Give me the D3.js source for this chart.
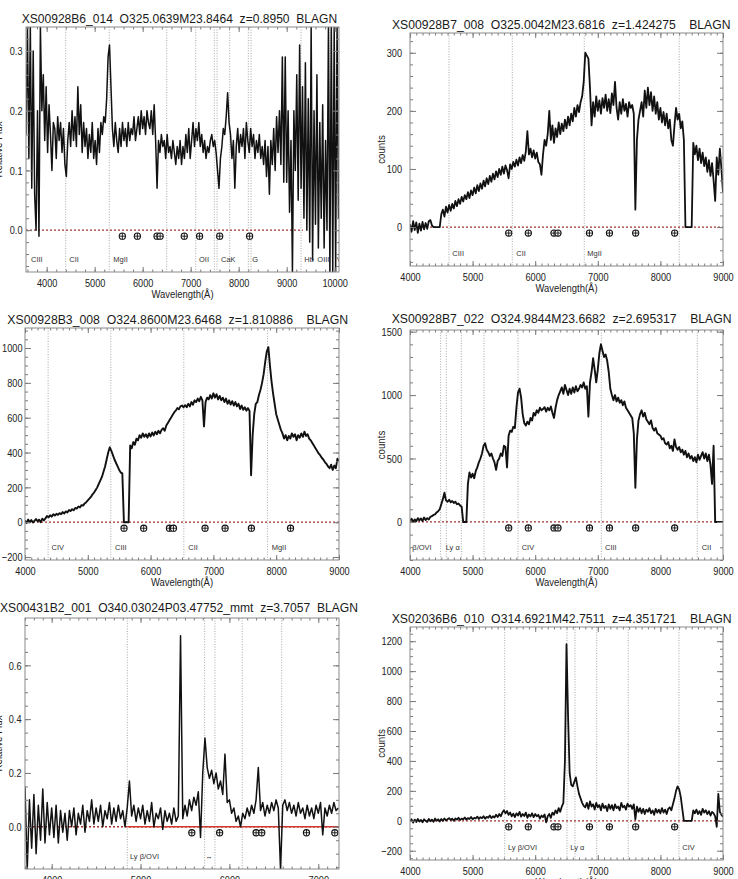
<!DOCTYPE html>
<html><head><meta charset="utf-8">
<script src="https://cdn.jsdelivr.net/npm/d3@7"></script>
<style>
body{margin:0;background:#fff;}
svg{display:block;font-family:"Liberation Sans",Arial,sans-serif;}
</style></head><body>
<svg id="c" width="738" height="879"></svg>
<script>
// ---------------- DATA ----------------
const telluricWave = [5577, 5890, 6300, 6364, 6867, 7186, 7605, 8228];

const title1 = "XS00928B6_014  O325.0639M23.8464  z=0.8950  BLAGN";
const title2 = "XS00928B7_008  O325.0042M23.6816  z=1.424275    BLAGN";
const title3 = "XS00928B3_008  O324.8600M23.6468  z=1.810886    BLAGN";
const title4 = "XS00928B7_022  O324.9844M23.6682  z=2.695317    BLAGN";
const title5 = "XS00431B2_001  O340.03024P03.47752_mmt  z=3.7057  BLAGN";
const title6 = "XS02036B6_010  O314.6921M42.7511  z=4.351721    BLAGN";

const xTicks1 = [4000, 5000, 6000, 7000, 8000, 9000, 10000];
const xTicksStd = [4000, 5000, 6000, 7000, 8000, 9000];
const xTicks5 = [4000, 5000, 6000, 7000];
const yTicks1 = [0, 0.1, 0.2, 0.3];
const yTicks2 = [0, 100, 200, 300];
const yTicks3 = [-200, 0, 200, 400, 600, 800, 1000];
const yTicks4 = [0, 500, 1000, 1500];
const yTicks5 = [0, 0.2, 0.4, 0.6];
const yTicks6 = [-200, 0, 200, 400, 600, 800, 1000, 1200];

// emission line markers (wavelength, Angstrom)
const lines1Wave = [4397, 5305, 6501, 7105, 7493, 7549, 7813, 8201, 8257, 9298, 9902];
const labels1Wave = [3674, 4472, 5389, 7174, 7632, 8284, 9367, 9638, 10042];
const labels1Text = ["CIII", "CII", "MgII", "OII", "CaK", "G", "Hb", "OIII", "V"];
const lines2Wave = [4623, 5634, 6784, 8301];
const labels2Wave = [4676, 5698, 6832];
const labels2Text = ["CIII", "CII", "MgII"];
const lines3Wave = [4368, 5366, 6529, 7860];
const labels3Wave = [4423, 5433, 6600, 7928];
const labels3Text = ["CIV", "CIII", "CII", "MgII"];
const lines4Wave = [4490, 4580, 4820, 5182, 5725, 7056, 8589];
const labels4Wave = [4037, 4570, 5784, 7115, 8660];
const labels4Text = ["β/OVI", "Ly α", "CIV", "CIII", "CII"];
const lines5Wave = [4851, 5721, 5837, 6144, 6588];
const labels5Wave = [4881, 5728];
const labels5Text = ["Ly β/OVI", "↔"];
const lines6Wave = [5513, 6508, 6636, 6982, 7487, 8297];
const labels6Wave = [5565, 6561, 8350];
const labels6Text = ["Ly β/OVI", "Ly α", "CIV"];

// spectra: first wavelength, sampling step (Angstrom), flux values
const spec1Start = 3570, spec1Step = 30;
const spec1Flux = [
 0.16,0.34,0.12,0.34,0.07,0.3,0.06,0.0,0.2,-0.01,
 0.34,0.2,0.26,0.15,0.24,0.13,0.21,0.16,0.1,0.18,
 0.17,0.12,0.19,0.15,0.18,0.13,0.17,0.11,0.09,0.15,
 0.18,0.14,0.2,0.15,0.19,0.14,0.24,0.16,0.21,0.13,
 0.18,0.14,0.17,0.12,0.16,0.13,0.18,0.12,0.15,0.11,
 0.17,0.13,0.18,0.16,0.19,0.18,0.22,0.29,0.31,0.24,
 0.17,0.14,0.18,0.15,0.13,0.17,0.14,0.18,0.15,0.17,
 0.14,0.18,0.15,0.17,0.16,0.19,0.15,0.17,0.19,0.16,
 0.2,0.17,0.19,0.16,0.2,0.18,0.17,0.2,0.16,0.21,
 0.15,0.07,0.15,0.13,0.16,0.14,0.15,0.12,0.16,0.13,
 0.14,0.12,0.15,0.13,0.11,0.14,0.12,0.15,0.11,0.14,
 0.12,0.16,0.13,0.17,0.12,0.15,0.18,0.14,0.17,0.15,
 0.18,0.14,0.16,0.13,0.15,0.12,0.14,0.13,0.15,0.16,
 0.14,0.15,0.13,0.1,0.07,0.12,0.14,0.17,0.16,0.19,
 0.23,0.18,0.16,0.12,0.15,0.07,0.14,0.17,0.13,0.16,
 0.14,0.17,0.12,0.18,0.15,0.13,0.17,0.14,0.16,0.12,
 0.15,0.13,0.16,0.12,0.14,0.11,0.15,0.09,0.14,0.06,
 0.15,0.11,0.17,0.1,0.19,0.13,0.2,0.11,0.29,0.08,
 0.29,0.08,0.2,0.03,0.15,-0.07,0.2,0.1,0.26,0.05,
 0.31,0.07,0.24,0.02,0.28,0.0,0.22,-0.02,0.34,-0.05,
 0.2,0.01,0.26,-0.03,0.18,0.02,0.21,-0.03,0.15,0.0,
 0.34,-0.07,0.34,-0.07,0.34,-0.07,0.34,0.02];

const spec2Start = 4000, spec2Step = 25;
const spec2Flux = [
 5,-8,10,-5,8,-10,6,-6,9,-4,7,-3,10,12,
 3,0,0,0,0,0,
 22,30,18,35,25,38,28,40,
 32,45,36,48,40,52,44,55,
 48,60,50,63,55,68,58,72,
 62,75,66,80,70,84,74,88,
 78,92,82,96,86,100,90,104,
 92,106,98,84,108,100,112,104,
 116,106,120,110,124,114,130,165,
 125,135,120,132,118,128,112,108,
 90,125,150,140,160,200,150,175,
 145,170,155,180,160,178,165,185,
 170,190,175,195,182,205,190,210,
 198,215,225,250,300,295,290,240,
 175,215,190,225,200,218,195,222,
 205,228,200,220,196,230,210,250,
 205,185,215,195,220,200,212,190,
 215,205,210,195,30,150,185,200,
 215,190,235,205,240,210,232,200,
 225,195,215,185,205,180,198,175,
 195,170,185,150,140,175,205,185,
 195,170,182,150,0,0,0,0,
 0,145,125,140,115,135,110,128,
 105,120,95,115,88,110,80,45,
 120,90,135,100,60];

const spec3Start = 4000, spec3Step = 25;
const spec3Flux = [
 10,-5,15,0,12,-2,8,18,5,14,0,20,10,22,
 35,28,40,32,45,38,48,42,
 52,46,58,50,62,56,70,64,
 75,68,82,78,90,85,98,95,
 108,115,125,135,145,160,170,185,
 200,220,240,260,290,320,360,400,
 430,410,385,360,340,320,300,285,
 280,0,0,0,0,440,425,460,
 445,480,470,500,485,510,490,505,
 485,510,492,515,498,520,505,525,
 510,530,540,525,555,570,585,600,
 615,630,640,655,648,665,670,660,
 672,660,680,665,690,675,700,690,
 710,695,720,700,550,690,715,705,
 730,710,740,715,735,705,725,700,
 715,690,710,680,700,675,695,670,
 690,665,680,650,670,645,660,640,
 655,640,270,500,620,680,690,730,
 760,800,850,920,980,1005,900,810,
 740,680,620,590,560,530,510,480,
 500,470,495,480,510,490,505,470,
 500,485,510,490,520,495,505,480,
 470,455,440,425,410,395,385,370,
 360,345,335,320,310,330,300,325,
 310,365,350];

const spec4Start = 4000, spec4Step = 25;
const spec4Flux = [
 10,25,0,20,5,30,12,28,8,35,15,30,20,40,
 45,55,60,75,85,100,
 140,180,230,170,160,175,155,165,
 150,160,140,145,130,120,0,0,
 0,300,390,350,380,345,400,430,
 470,500,540,600,620,570,550,520,
 540,500,470,410,480,500,540,520,
 600,590,430,680,720,710,750,740,
 900,1020,1050,980,850,780,760,790,
 770,820,800,860,840,880,860,900,
 880,890,905,870,900,880,910,860,
 820,900,960,1000,1030,1060,1010,1080,
 1040,1000,1050,1010,1060,1020,1070,1030,
 1050,1080,1060,1100,1050,1070,830,1100,
 1180,1290,1200,1100,1200,1330,1400,1350,
 1300,1320,1270,1180,1050,1000,960,1000,
 950,980,940,960,920,950,900,880,
 860,840,820,700,270,650,800,850,
 880,830,860,810,790,770,800,740,
 720,740,700,690,680,650,660,620,
 610,630,580,600,560,650,590,570,
 590,550,570,530,560,510,540,500,
 520,480,510,470,530,490,520,550,
 500,540,480,530,450,300,600,0,
 0,0,0,0,0];

const spec5Start = 3700, spec5Step = 25;
const spec5Flux = [
 0.15,-0.16,0.1,-0.08,0.12,-0.1,0.08,-0.05,0.14,-0.06,
 0.09,-0.03,0.07,-0.04,0.08,-0.06,0.06,-0.02,0.05,-0.05,
 0.06,0.0,0.07,-0.03,0.05,0.01,0.08,-0.02,0.06,0.02,
 0.1,0.01,0.07,0.02,0.08,0.0,0.06,0.03,0.09,0.01,
 0.07,0.02,0.08,0.03,0.06,0.0,0.07,0.17,0.04,0.08,
 0.02,0.07,0.03,0.08,0.01,0.06,0.02,0.09,0.0,0.05,
 0.03,0.07,-0.01,0.06,0.02,0.05,0.01,0.07,0.02,0.04,
 0.71,0.03,0.08,0.04,0.1,0.06,0.11,0.08,0.13,-0.04,
 0.2,0.33,0.22,0.18,0.21,0.16,0.2,0.14,0.17,0.12,
 0.27,0.09,0.1,0.05,0.07,0.02,0.04,0.0,0.05,0.03,
 0.07,0.04,0.08,0.05,0.1,0.22,0.06,0.09,0.04,0.08,
 0.05,0.09,0.06,0.1,0.07,-0.16,0.08,0.1,0.06,0.09,
 0.05,0.08,0.04,0.09,0.05,0.07,0.03,0.08,0.04,0.07,
 0.03,0.08,0.05,0.09,-0.03,0.07,0.04,0.08,0.05,0.09,0.06,0.07];

const spec6Start = 4000, spec6Step = 25;
const spec6Flux = [
 -5,10,-12,8,-8,12,-5,6,-10,10,0,-8,12,-3,8,-6,15,0,10,-5,
 12,0,15,2,10,18,5,14,0,16,8,20,5,15,10,22,8,18,12,25,
 10,20,15,28,12,24,18,30,14,26,20,35,18,30,22,40,
 25,45,30,55,70,50,65,40,
 55,30,48,25,50,35,60,28,45,32,55,20,42,30,50,25,
 45,30,40,15,35,25,42,-10,30,45,20,55,40,70,50,85,
 60,95,120,400,1180,700,320,240,
 230,260,290,230,180,150,120,100,
 90,120,80,130,95,110,75,120,90,105,70,115,85,100,65,110,
 80,105,70,110,85,95,70,120,90,100,75,115,95,105,80,110,
 10,95,60,85,50,80,45,75,60,85,50,70,40,80,55,75,
 50,85,55,75,45,80,90,70,110,150,200,230,
 210,160,80,0,0,0,0,0,
 0,70,50,75,45,65,40,80,
 55,70,45,65,35,60,50,30,
 -40,180,60,40,25];

// ---------------- LAYOUT ----------------
const panels = [
 {id:1, title:title1, tx:[21.7,337.5], ty:22.7, box:[26,27,339,272], xDom:[3570,10090], yDom:[-0.07,0.34],
  xTicks:xTicks1, xMinor:200, yTicks:yTicks1, yMinor:0.02, fmt:d3.format(".1f"),
  start:spec1Start, step:spec1Step, flux:spec1Flux, lines:lines1Wave, labW:labels1Wave, labT:labels1Text,
  zeroEnd:9340, solidFrom:null, yLabel:"Relative Flux", yLabX:2, yPad:3.5, sw:1.5},
 {id:2, title:title2, tx:[392,731], ty:28.7, box:[410,33,723,266], xDom:[4000,9000], yDom:[-67,334],
  xTicks:xTicksStd, xMinor:100, yTicks:yTicks2, yMinor:20, fmt:d3.format("d"),
  start:spec2Start, step:spec2Step, flux:spec2Flux, lines:lines2Wave, labW:labels2Wave, labT:labels2Text,
  zeroEnd:9000, solidFrom:null, yLabel:"counts", yLabX:385, yPad:8, sw:1.8},
 {id:3, title:title3, tx:[7.3,348.3], ty:323.7, box:[25,328,339,560], xDom:[4000,9000], yDom:[-217,1115],
  xTicks:xTicksStd, xMinor:100, yTicks:yTicks3, yMinor:50, fmt:d3.format("d"),
  start:spec3Start, step:spec3Step, flux:spec3Flux, lines:lines3Wave, labW:labels3Wave, labT:labels3Text,
  zeroEnd:9000, solidFrom:null, yLabel:null, yLabX:0, yPad:2.5, sw:1.9},
 {id:4, title:title4, tx:[391.7,731.7], ty:322.7, box:[410,330,723,560], xDom:[4000,9000], yDom:[-300,1513],
  xTicks:xTicksStd, xMinor:100, yTicks:yTicks4, yMinor:100, fmt:d3.format("d"),
  start:spec4Start, step:spec4Step, flux:spec4Flux, lines:lines4Wave, labW:labels4Wave, labT:labels4Text,
  zeroEnd:9000, solidFrom:null, yLabel:"counts", yLabX:385, yPad:8, sw:1.9},
 {id:5, title:title5, tx:[0,358.3], ty:612.3, box:[25,618,339,869], xDom:[3700,7233], yDom:[-0.157,0.776],
  xTicks:xTicks5, xMinor:100, yTicks:yTicks5, yMinor:0.05, fmt:d3.format(".1f"),
  start:spec5Start, step:spec5Step, flux:spec5Flux, lines:lines5Wave, labW:labels5Wave, labT:labels5Text,
  zeroEnd:7233, solidFrom:4850, yLabel:"Relative Flux", yLabX:2, yPad:3.5, sw:1.5},
 {id:6, title:title6, tx:[391.7,731.7], ty:623, box:[410,627,723,860], xDom:[4000,9000], yDom:[-262,1295],
  xTicks:xTicksStd, xMinor:100, yTicks:yTicks6, yMinor:50, fmt:d3.format("d"),
  start:spec6Start, step:spec6Step, flux:spec6Flux, lines:lines6Wave, labW:labels6Wave, labT:labels6Text,
  zeroEnd:9000, solidFrom:null, yLabel:"counts", yLabX:385, yPad:8, sw:1.8}
];

const svg = d3.select("#c");
const defs = svg.append("defs");
const TICK = "#7a7a7a";

function minorVals(d0, d1, step) {
  const out = [];
  const a = Math.ceil(Math.min(d0,d1)/step - 1e-9), b = Math.floor(Math.max(d0,d1)/step + 1e-9);
  for (let k = a; k <= b; k++) out.push(+(k*step).toFixed(6));
  return out;
}

function styleAxis(g) {
  g.select(".domain").remove();
  g.selectAll(".tick line").attr("stroke", TICK).attr("stroke-width", 1);
  g.selectAll(".tick text").attr("fill", "#222").attr("font-size", 11.5)
    .attr("font-family", '"Liberation Sans",Arial,sans-serif').classed("sq", true).attr("data-f", 0.8);
}

panels.forEach(p => {
  const [L,T,R,B] = p.box;
  const x = d3.scaleLinear().domain(p.xDom).range([L,R]);
  const y = d3.scaleLinear().domain(p.yDom).range([B,T]);
  const g = svg.append("g");
  const cid = "clip" + p.id;
  defs.append("clipPath").attr("id", cid).append("rect")
    .attr("x", L).attr("y", T).attr("width", R-L).attr("height", B-T);

  // emission line positions
  g.append("g").selectAll("line").data(p.lines).join("line")
    .attr("x1", d => x(d)).attr("x2", d => x(d)).attr("y1", T).attr("y2", B)
    .attr("stroke", "#9d9d9d").attr("stroke-width", 0.9).attr("stroke-dasharray", "1,1.6");

  // zero line
  g.append("line").attr("x1", x(p.xDom[0])).attr("x2", x(p.zeroEnd)).attr("y1", y(0)).attr("y2", y(0))
    .attr("stroke", "#a3302c").attr("stroke-width", 1.3).attr("stroke-dasharray", "2,2");
  if (p.solidFrom !== null) {
    g.append("line").attr("x1", x(p.solidFrom)).attr("x2", x(p.xDom[1])).attr("y1", y(0)).attr("y2", y(0))
      .attr("stroke", "#cc3a32").attr("stroke-width", 1.4);
  }

  // spectrum
  const line = d3.line().x((d,i) => x(p.start + i*p.step)).y(d => y(d));
  g.append("path").attr("clip-path", `url(#${cid})`).attr("d", line(p.flux))
    .attr("fill", "none").attr("stroke", "#111").attr("stroke-width", p.sw).attr("stroke-linejoin", "round");

  // telluric markers
  const mk = g.append("g").selectAll("g").data(telluricWave.filter(w => w >= p.xDom[0] && w <= p.xDom[1])).join("g")
    .attr("transform", d => `translate(${x(d)},${y(0)+6})`);
  mk.append("circle").attr("r", 3.1).attr("fill", "#fff").attr("stroke", "#111").attr("stroke-width", 1.1);
  mk.append("line").attr("x1", -3).attr("x2", 3).attr("stroke", "#111").attr("stroke-width", 0.9);
  mk.append("line").attr("y1", -3).attr("y2", 3).attr("stroke", "#111").attr("stroke-width", 0.9);

  // line labels
  g.append("g").attr("clip-path", `url(#${cid})`).selectAll("text").data(p.labT).join("text")
    .attr("x", (d,i) => x(p.labW[i])).attr("y", B - 10)
    .attr("font-size", 7.5).attr("fill", "#333").text(d => d);

  // axes: major ticks inward on all four sides
  g.append("g").attr("transform", `translate(0,${B})`)
    .call(d3.axisBottom(x).tickValues(p.xTicks).tickSizeInner(-5).tickSizeOuter(0).tickPadding(7).tickFormat(d3.format("d")))
    .call(styleAxis);
  g.append("g").attr("transform", `translate(0,${T})`)
    .call(d3.axisTop(x).tickValues(p.xTicks).tickSizeInner(-5).tickSizeOuter(0).tickFormat(""))
    .call(styleAxis);
  g.append("g").attr("transform", `translate(${L},0)`)
    .call(d3.axisLeft(y).tickValues(p.yTicks).tickSizeInner(-6).tickSizeOuter(0).tickPadding(p.yPad).tickFormat(p.fmt))
    .call(styleAxis);
  g.append("g").attr("transform", `translate(${R},0)`)
    .call(d3.axisRight(y).tickValues(p.yTicks).tickSizeInner(-6).tickSizeOuter(0).tickFormat(""))
    .call(styleAxis);
  // minor ticks
  const xm = minorVals(p.xDom[0], p.xDom[1], p.xMinor);
  const ym = minorVals(p.yDom[0], p.yDom[1], p.yMinor);
  g.append("g").attr("transform", `translate(0,${B})`)
    .call(d3.axisBottom(x).tickValues(xm).tickSizeInner(-2.5).tickSizeOuter(0).tickFormat("")).call(styleAxis);
  g.append("g").attr("transform", `translate(0,${T})`)
    .call(d3.axisTop(x).tickValues(xm).tickSizeInner(-2.5).tickSizeOuter(0).tickFormat("")).call(styleAxis);
  g.append("g").attr("transform", `translate(${L},0)`)
    .call(d3.axisLeft(y).tickValues(ym).tickSizeInner(-3).tickSizeOuter(0).tickFormat("")).call(styleAxis);
  g.append("g").attr("transform", `translate(${R},0)`)
    .call(d3.axisRight(y).tickValues(ym).tickSizeInner(-3).tickSizeOuter(0).tickFormat("")).call(styleAxis);

  // frame
  g.append("rect").attr("x", L).attr("y", T).attr("width", R-L).attr("height", B-T)
    .attr("fill", "none").attr("stroke", "#8a8a8a").attr("stroke-width", 1);

  // title (scaled horizontally to the measured span)
  const tt = svg.append("text").attr("x", 0).attr("y", 0).attr("font-size", 13).attr("fill", "#1a1a1a")
    .style("white-space", "pre").text(p.title);
  const natural = tt.node().getComputedTextLength();
  tt.attr("transform", `translate(${p.tx[0]},${p.ty}) scale(${((p.tx[1]-p.tx[0])/natural).toFixed(4)},1)`);

  // x label
  svg.append("text").attr("x", (L+R)/2).attr("y", B + 26).attr("text-anchor", "middle")
    .attr("font-size", 11).attr("fill", "#222").classed("sq", true).attr("data-f", 0.86)
    .text("Wavelength(Å)");

  // y label
  if (p.yLabel) {
    svg.append("text").attr("transform", `translate(${p.yLabX},${(T+B)/2}) rotate(-90)`)
      .attr("text-anchor", "middle").attr("font-size", 11).attr("fill", "#222")
      .classed("sq", true).attr("data-f", 0.88).text(p.yLabel);
  }
});

// horizontally condense texts (around their anchor) to mimic the narrow plotting font
svg.selectAll("text.sq").each(function() {
  const f = this.getAttribute("data-f");
  const ax = +(this.getAttribute("x") || 0);
  const prev = this.getAttribute("transform") || "";
  this.setAttribute("transform", `${prev} translate(${ax},0) scale(${f},1) translate(${-ax},0)`.trim());
});
</script>
</body></html>
